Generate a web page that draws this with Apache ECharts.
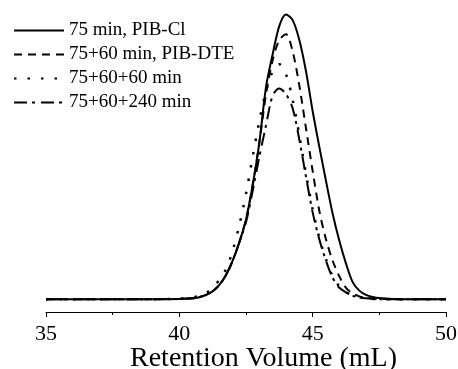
<!DOCTYPE html>
<html><head><meta charset="utf-8">
<script src="https://cdn.jsdelivr.net/npm/echarts@6/dist/echarts.min.js"></script>
<style>html,body{margin:0;padding:0;background:#fff}#c{width:458px;height:369px}</style>
</head><body><div id="c"></div>
<script>
var seriesNames = ['75 min, PIB-Cl', '75+60 min, PIB-DTE', '75+60+60 min', '75+60+240 min'];
var axisTitle = 'Retention Volume (mL)';
var volume = [35,36,37,38,39,40,40.5,40.75,41,41.25,41.5,41.75,42,42.25,42.5,42.75,43,43.25,43.5,43.75,44,44.25,44.5,44.75,45,45.25,45.5,45.75,46,46.25,46.5,46.75,47,47.25,47.5,48,49,50];
var pibCl   = [0,0,0,0,0,0.001,0.003,0.007,0.015,0.028,0.05,0.085,0.135,0.2,0.28,0.4,0.55,0.745,0.86,0.96,1.0,0.98,0.91,0.8,0.66,0.535,0.415,0.3,0.205,0.125,0.06,0.03,0.015,0.008,0.004,0.001,0,0];
var pibDte  = [0,0,0,0,0,0.001,0.003,0.007,0.015,0.028,0.05,0.085,0.135,0.2,0.28,0.4,0.55,0.72,0.84,0.91,0.93,0.87,0.75,0.6,0.45,0.31,0.21,0.135,0.08,0.04,0.02,0.01,0.005,0.003,0.001,0,0,0];
var min60   = [0,0,0,0,0,0.002,0.006,0.012,0.022,0.04,0.068,0.105,0.17,0.26,0.37,0.5,0.625,0.73,0.8,0.825,0.79,0.7,0.575,0.44,0.315,0.215,0.14,0.08,0.045,0.025,0.013,0.007,0.003,0.001,0,0,0,0];
var min240  = [0,0,0,0,0,0.001,0.003,0.007,0.015,0.028,0.05,0.085,0.135,0.2,0.27,0.38,0.5,0.61,0.715,0.74,0.72,0.67,0.56,0.43,0.305,0.21,0.135,0.075,0.04,0.024,0.012,0.006,0.003,0.001,0,0,0,0];
var xTicks = [35, 40, 45, 50];

var font = "'Liberation Serif','Times New Roman',serif";
function pairs(arr){ return volume.map(function(v,i){ return [v, arr[i]]; }); }
var styles = [
  {type:'solid', width:2},
  {type:[8,6], width:2},
  {type:[2.5,11], width:2.5},
  {type:[13,5,3,6], width:2}
];
var dataSets = [pibCl, pibDte, min60, min240];
var chart = echarts.init(document.getElementById('c'));
chart.setOption({
  animation:false,
  backgroundColor:'#fff',
  grid:{left:46,right:12,top:13,bottom:57,outerBoundsMode:'none',containLabel:false},
  legend:{
    orient:'vertical', left:13, top:21, padding:0, itemWidth:50, itemHeight:14, itemGap:5,
    itemStyle:{opacity:0},
    textStyle:{fontFamily:font, fontSize:19, color:'#000', lineHeight:19},
    data:seriesNames
  },
  graphic:[{
    type:'text', left:130, top:345, silent:true,
    style:{text:axisTitle, fontFamily:font, fontSize:28, fill:'#000', lineHeight:28}
  }],
  xAxis:{
    type:'value', min:35, max:50, interval:5,
    axisLine:{onZero:false, lineStyle:{color:'#000', width:1}},
    axisTick:{show:true, inside:false, length:5, lineStyle:{color:'#000'}},
    minorTick:{show:true, splitNumber:2, length:3, lineStyle:{color:'#000'}},
    axisLabel:{fontFamily:font, fontSize:22, color:'#000', margin:11,
      formatter:function(v){ return xTicks.indexOf(v)>=0 ? String(v) : ''; }},
    splitLine:{show:false}
  },
  yAxis:{type:'value', min:-0.045, max:1.005, show:false, splitLine:{show:false}},
  series: seriesNames.map(function(n,i){
    return {
      name:n, type:'line', data:pairs(dataSets[i]), smooth:0.3,
      showSymbol:false, symbol:'none',
      lineStyle:{color:'#000', width:styles[i].width, type:styles[i].type},
      itemStyle:{color:'#000'}
    };
  })
});
</script></body></html>
